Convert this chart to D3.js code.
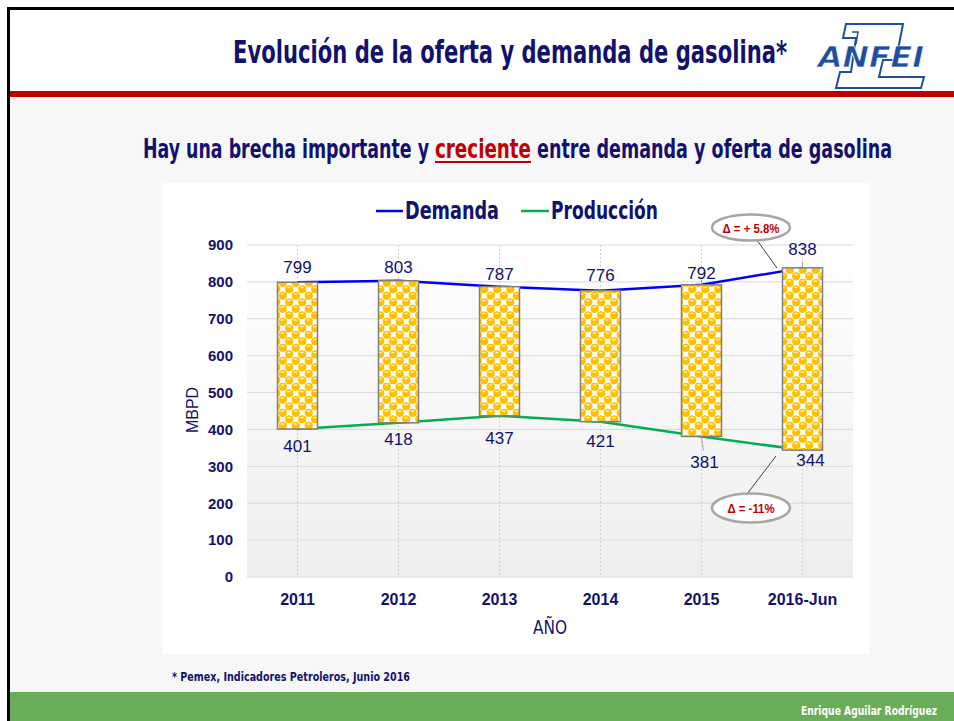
<!DOCTYPE html>
<html>
<head>
<meta charset="utf-8">
<script src="https://cdn.jsdelivr.net/npm/d3@7"></script>
<style>
  body { margin: 0; background: #fff; }
  svg { display: block; }
  .cond { font-family: "Liberation Sans Narrow", "DejaVu Sans Condensed", "Liberation Sans", Arial, sans-serif; font-weight: bold; }
  .reg { font-family: "Liberation Sans", Arial, sans-serif; }
</style>
</head>
<body>
<div id="chart"></div>
<script>
// data
var years = ['2011', '2012', '2013', '2014', '2015', '2016-Jun'];
var demanda = [799, 803, 787, 776, 792, 838];
var produccion = [401, 418, 437, 421, 381, 344];
var yTicks = [0, 100, 200, 300, 400, 500, 600, 700, 800, 900];
var seriesNames = ['Demanda', 'Producción'];
var deltaLabels = ['Δ = + 5.8%', 'Δ = -11%'];

// label nudges (layout only)
var demDy = [-15, -14, -13, -16, -12, -19];
var prodDy = [17, 16, 22, 19, 26, 10];
var prodDx = [0, 0, 0, 0, 3, 8];

var W = 954, H = 721;
var navy = '#12126c';

var svg = d3.select('#chart').append('svg')
  .attr('width', W).attr('height', H);

var defs = svg.append('defs');

// yellow checker "spheres" fill
var pat = defs.append('pattern')
  .attr('id', 'balls')
  .attr('patternUnits', 'userSpaceOnUse')
  .attr('width', 13).attr('height', 13);
pat.append('rect').attr('width', 13).attr('height', 13).attr('fill', '#fff');
[[3.25, 3.25], [9.75, 9.75], [-3.25, -3.25], [16.25, 16.25], [16.25, 3.25], [3.25, 16.25], [-3.25, 9.75], [9.75, -3.25]].forEach(function (c) {
  pat.append('circle').attr('cx', c[0]).attr('cy', c[1]).attr('r', 4.1).attr('fill', '#ffc000');
});
[[3.25, 3.25], [9.75, 9.75]].forEach(function (c) {
  pat.append('rect').attr('x', c[0] - 2).attr('y', c[1] - 2.4).attr('width', 3.4).attr('height', 1.4).attr('fill', '#fff3c8');
});

var grad = defs.append('linearGradient')
  .attr('id', 'plotbg').attr('x1', 0).attr('y1', 0).attr('x2', 0).attr('y2', 1);
grad.append('stop').attr('offset', '0%').attr('stop-color', '#ffffff');
grad.append('stop').attr('offset', '100%').attr('stop-color', '#eeeeee');

// slide background
svg.append('rect').attr('width', W).attr('height', H).attr('fill', '#fff');
svg.append('rect').attr('x', 10).attr('y', 97).attr('width', W - 10).attr('height', 595).attr('fill', '#f7f7f7');
svg.append('rect').attr('x', 10).attr('y', 91).attr('width', W - 10).attr('height', 6).attr('fill', '#c00000');
svg.append('rect').attr('x', 10).attr('y', 692).attr('width', W - 10).attr('height', 29).attr('fill', '#6aad58');
svg.append('rect').attr('x', 7).attr('y', 7).attr('width', W - 7).attr('height', 3).attr('fill', '#000');
svg.append('rect').attr('x', 7).attr('y', 7).attr('width', 3).attr('height', H - 7).attr('fill', '#000');

// title
svg.append('text').attr('class', 'cond')
  .attr('x', 233).attr('y', 63)
  .attr('textLength', 554).attr('lengthAdjust', 'spacingAndGlyphs')
  .style('font-size', '32px').attr('fill', navy)
  .text('Evolución de la oferta y demanda de gasolina*');

// ANFEI logo (rough)
var logo = svg.append('g').attr('fill', 'none').attr('stroke', '#1f4f9c').attr('stroke-width', 2);
logo.append('path').attr('d', 'M846,24 L903,24 L896,60 L883,60 L879,77 L924,77 L921,88 L836,88 L840,72 L851,72 L856,38 L843,38 Z');
logo.append('path').attr('d', 'M852,32 L858,32 L856,44').attr('stroke-width', 1.5);
svg.append('text').attr('class', 'cond')
  .attr('x', 818).attr('y', 67)
  .attr('textLength', 106).attr('lengthAdjust', 'spacingAndGlyphs')
  .style('font-size', '28px').style('font-style', 'italic')
  .attr('fill', '#1f4f9c').attr('stroke', '#fff').attr('stroke-width', 0.6)
  .text('ANFEI');

// subtitle
var sub = svg.append('g').attr('class', 'cond').style('font-size', '26px');
sub.append('text').attr('x', 143).attr('y', 158)
  .attr('textLength', 286).attr('lengthAdjust', 'spacingAndGlyphs')
  .attr('fill', navy).text('Hay una brecha importante y');
sub.append('text').attr('x', 435).attr('y', 158)
  .attr('textLength', 96).attr('lengthAdjust', 'spacingAndGlyphs')
  .attr('fill', '#c00000').text('creciente');
sub.append('rect').attr('x', 435).attr('y', 161).attr('width', 96).attr('height', 2).attr('fill', '#c00000');
sub.append('text').attr('x', 537).attr('y', 158)
  .attr('textLength', 355).attr('lengthAdjust', 'spacingAndGlyphs')
  .attr('fill', navy).text('entre demanda y oferta de gasolina');

// chart panel
svg.append('rect').attr('x', 163).attr('y', 183).attr('width', 706).attr('height', 471).attr('fill', '#fff');

var x = d3.scaleBand().domain(years).range([247, 853]).padding(0);
var y = d3.scaleLinear().domain([0, 900]).range([577, 245]);
var cx = function (d) { return x(d) + x.bandwidth() / 2; };
var barW = 40;

svg.append('rect').attr('x', 247).attr('y', y(900)).attr('width', 606)
  .attr('height', y(0) - y(900)).attr('fill', 'url(#plotbg)');

// grid
svg.append('g').selectAll('line').data(yTicks).enter().append('line')
  .attr('x1', 247).attr('x2', 853)
  .attr('y1', function (d) { return y(d); }).attr('y2', function (d) { return y(d); })
  .attr('stroke', '#d9d9d9').attr('stroke-width', 1);
svg.append('g').selectAll('line').data(years).enter().append('line')
  .attr('x1', cx).attr('x2', cx)
  .attr('y1', y(900)).attr('y2', y(0))
  .attr('stroke', '#cfcfcf').attr('stroke-width', 1).attr('stroke-dasharray', '2,2');

// y axis labels
var yAxis = svg.append('g').attr('transform', 'translate(233,0)')
  .call(d3.axisLeft(y).tickValues(yTicks).tickSize(0).tickPadding(0));
yAxis.select('.domain').remove();
yAxis.selectAll('text').attr('class', 'reg')
  .style('font-size', '15px').style('font-weight', 'bold').attr('fill', navy);

// x axis labels
var xAxis = svg.append('g').attr('transform', 'translate(0,' + 594 + ')')
  .call(d3.axisBottom(x).tickSize(0).tickPadding(0));
xAxis.select('.domain').remove();
xAxis.selectAll('text').attr('class', 'reg')
  .style('font-size', '16px').style('font-weight', 'bold').attr('fill', navy);

svg.append('text').attr('class', 'cond')
  .attr('x', 550).attr('y', 634).attr('text-anchor', 'middle')
  .attr('textLength', 34).attr('lengthAdjust', 'spacingAndGlyphs')
  .style('font-size', '20px').style('font-weight', 'normal').attr('fill', navy).text('AÑO');
svg.append('text').attr('class', 'reg')
  .attr('transform', 'translate(198,' + 410 + ') rotate(-90)')
  .attr('text-anchor', 'middle').style('font-size', '16px').attr('fill', navy).text('MBPD');

// lines
var line = d3.line()
  .x(function (d, i) { return cx(years[i]); })
  .y(function (d) { return y(d); });
svg.append('path').attr('d', line(demanda)).attr('fill', 'none')
  .attr('stroke', '#0000ff').attr('stroke-width', 2.5);
svg.append('path').attr('d', line(produccion)).attr('fill', 'none')
  .attr('stroke', '#00b050').attr('stroke-width', 2.5);

// floating bars (gap between demand and production)
svg.append('g').selectAll('rect').data(years).enter().append('rect')
  .attr('x', function (d) { return cx(d) - barW / 2; })
  .attr('y', function (d, i) { return y(demanda[i]); })
  .attr('width', barW)
  .attr('height', function (d, i) { return y(produccion[i]) - y(demanda[i]); })
  .attr('fill', 'url(#balls)')
  .attr('stroke', '#7f7f7f').attr('stroke-width', 1.5);

// leader lines for moved labels
var leaders = svg.append('g').attr('stroke', '#a6a6a6').attr('stroke-width', 1);
leaders.append('line').attr('x1', cx(years[4])).attr('y1', y(produccion[4]) + 1)
  .attr('x2', cx(years[4]) + 2).attr('y2', y(produccion[4]) + 14);
leaders.append('line').attr('x1', cx(years[4])).attr('y1', y(demanda[4]) - 1)
  .attr('x2', cx(years[4])).attr('y2', y(demanda[4]) - 5);
leaders.append('line').attr('x1', cx(years[5])).attr('y1', y(demanda[5]) - 1)
  .attr('x2', cx(years[5])).attr('y2', y(demanda[5]) - 6);

// data labels
svg.append('g').selectAll('text').data(demanda).enter().append('text')
  .attr('class', 'reg')
  .attr('x', function (d, i) { return cx(years[i]); })
  .attr('y', function (d, i) { return y(d) + demDy[i]; })
  .attr('dy', '0.35em').attr('text-anchor', 'middle')
  .style('font-size', '17px').attr('fill', navy)
  .text(function (d) { return d; });
svg.append('g').selectAll('text').data(produccion).enter().append('text')
  .attr('class', 'reg')
  .attr('x', function (d, i) { return cx(years[i]) + prodDx[i]; })
  .attr('y', function (d, i) { return y(d) + prodDy[i]; })
  .attr('dy', '0.35em').attr('text-anchor', 'middle')
  .style('font-size', '17px').attr('fill', navy)
  .text(function (d) { return d; });

// legend
var legend = svg.append('g');
var legendX = [[376, 405, 94], [521, 551, 107]];
var legendColor = ['#0000ff', '#00b050'];
seriesNames.forEach(function (name, i) {
  legend.append('line').attr('x1', legendX[i][0]).attr('x2', legendX[i][1] - 2)
    .attr('y1', 211).attr('y2', 211)
    .attr('stroke', legendColor[i]).attr('stroke-width', 2.5);
  legend.append('text').attr('class', 'cond')
    .attr('x', legendX[i][1]).attr('y', 219)
    .attr('textLength', legendX[i][2]).attr('lengthAdjust', 'spacingAndGlyphs')
    .style('font-size', '24px').attr('fill', navy)
    .text(name);
});

// change annotations
var ann = svg.append('g');
function callout(cxp, cyp, rx, ry, label, tl, lx1, ly1, lx2, ly2) {
  ann.append('line').attr('x1', lx1).attr('y1', ly1).attr('x2', lx2).attr('y2', ly2)
    .attr('stroke', '#404040').attr('stroke-width', 1);
  ann.append('ellipse').attr('cx', cxp).attr('cy', cyp).attr('rx', rx).attr('ry', ry)
    .attr('fill', '#fff').attr('stroke', '#a6a6a6').attr('stroke-width', 2.5);
  ann.append('text').attr('class', 'reg')
    .attr('x', cxp).attr('y', cyp + 5).attr('text-anchor', 'middle')
    .attr('textLength', tl).attr('lengthAdjust', 'spacingAndGlyphs')
    .style('font-size', '13px').style('font-weight', 'bold').attr('fill', '#c00000')
    .text(label);
}
callout(751, 227.5, 39, 13, deltaLabels[0], 57, 754, 236, 777, 268);
callout(751, 508, 39, 14.5, deltaLabels[1], 47, 747, 494, 776, 456);

// footer
svg.append('text').attr('class', 'cond')
  .attr('x', 172).attr('y', 681)
  .attr('textLength', 238).attr('lengthAdjust', 'spacingAndGlyphs')
  .style('font-size', '13px').attr('fill', navy)
  .text('* Pemex, Indicadores Petroleros, Junio 2016');
svg.append('text').attr('class', 'cond')
  .attr('x', 801).attr('y', 715)
  .attr('textLength', 136).attr('lengthAdjust', 'spacingAndGlyphs')
  .style('font-size', '13px').attr('fill', '#fff')
  .text('Enrique Aguilar Rodríguez');
</script>
</body>
</html>
